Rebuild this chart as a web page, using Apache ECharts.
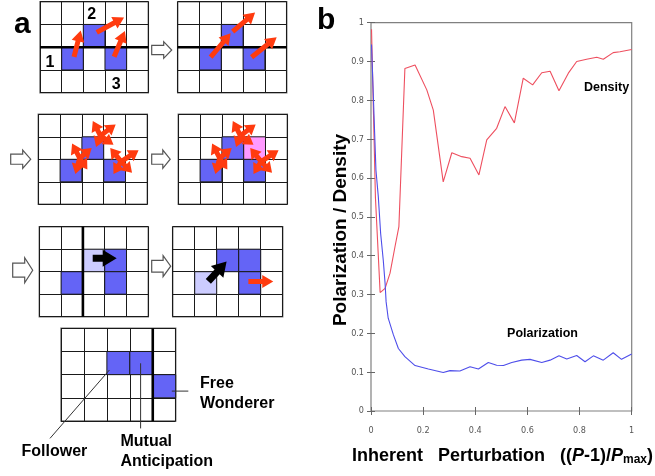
<!DOCTYPE html>
<html><head><meta charset="utf-8">
<script src="https://cdn.jsdelivr.net/npm/echarts@6/dist/echarts.min.js"></script>
<style>html,body{margin:0;padding:0;background:#fff}#c{width:655px;height:476px}</style>
</head><body><div id="c"></div><script>
// ---------- Panel b data ----------
const densX = [0.002,0.017,0.035,0.054,0.073,0.092,0.107,0.13,0.169,0.214,0.239,0.277,0.31,0.348,0.38,0.414,0.444,0.482,0.514,0.55,0.584,0.62,0.655,0.687,0.721,0.757,0.789,0.827,0.866,0.891,0.929,0.955,1];
const densY = [0.983,0.55,0.305,0.316,0.355,0.423,0.475,0.882,0.891,0.827,0.775,0.59,0.665,0.655,0.651,0.608,0.698,0.728,0.784,0.742,0.857,0.84,0.871,0.875,0.825,0.87,0.9,0.906,0.911,0.906,0.923,0.925,0.931];
const polX = [0.002,0.019,0.028,0.037,0.047,0.054,0.058,0.066,0.086,0.105,0.13,0.169,0.22,0.277,0.303,0.341,0.38,0.412,0.45,0.482,0.508,0.54,0.578,0.61,0.655,0.687,0.721,0.751,0.789,0.821,0.853,0.891,0.929,0.961,1];
const polY = [0.944,0.62,0.552,0.457,0.389,0.329,0.281,0.239,0.196,0.161,0.14,0.117,0.108,0.099,0.104,0.103,0.114,0.108,0.125,0.118,0.117,0.125,0.131,0.133,0.125,0.131,0.142,0.134,0.143,0.127,0.142,0.131,0.15,0.133,0.147];
const seriesNames = ['Density','Polarization'];

// ---------- Panel a data (cell coordinates: col, row) ----------
// [grid, col, row, kind]  kind: 0 blue, 1 light blue, 2 pink
const cells = [
  [0,1,2,0],[0,2,1,0],[0,3,2,0],
  [1,1,2,0],[1,2,1,0],[1,3,2,0],
  [2,1,2,0],[2,2,1,0],[2,3,2,0],
  [3,1,2,0],[3,2,1,0],[3,3,2,0],[3,3,1,2],
  [4,2,1,1],[4,3,1,0],[4,1,2,0],[4,3,2,0],
  [5,2,1,0],[5,3,1,0],[5,1,2,1],[5,3,2,0],
  [6,2,1,0],[6,3,1,0],[6,4,2,0]
];
// [grid, x1, y1, x2, y2, kind]  kind: 0 red, 1 small red, 2 black
const arrows = [
  [0,1.57,2.42,1.88,1.27,0],[0,2.62,1.35,3.88,0.69,0],[0,3.42,2.42,3.92,1.29,0],
  [1,1.51,2.44,2.43,1.39,0],[1,2.52,1.32,3.55,0.47,0],[1,3.39,2.44,4.54,1.56,0],
  [2,1.9,1.95,1.55,1.3,1],[2,1.9,1.95,2.45,1.5,1],[2,1.9,1.95,1.7,2.65,1],[2,1.9,1.95,2.25,2.45,1],
  [2,2.85,0.95,2.5,0.3,1],[2,2.85,0.95,3.55,0.45,1],[2,2.85,0.95,3.45,1.35,1],[2,2.85,0.95,2.65,1.45,1],
  [2,3.8,2.1,3.3,1.5,1],[2,3.8,2.1,4.6,1.6,1],[2,3.8,2.1,4.3,2.6,1],[2,3.8,2.1,3.45,2.65,1],
  [3,1.9,1.95,1.55,1.3,1],[3,1.9,1.95,2.45,1.5,1],[3,1.9,1.95,1.7,2.65,1],[3,1.9,1.95,2.25,2.45,1],
  [3,2.85,0.95,2.5,0.3,1],[3,2.85,0.95,3.55,0.45,1],[3,2.85,0.95,3.45,1.35,1],[3,2.85,0.95,2.65,1.45,1],
  [3,3.8,2.1,3.3,1.5,1],[3,3.8,2.1,4.6,1.6,1],[3,3.8,2.1,4.3,2.6,1],[3,3.8,2.1,3.45,2.65,1],
  [4,2.45,1.4,3.55,1.4,2],
  [5,1.62,2.43,2.45,1.55,2],[5,3.44,2.43,4.57,2.43,0]
];
// [grid, x1, y1, x2, y2, kind] kind 0 heavy grid line, 1 leader line
const segs = [
  [0,0,2,5,2,0],[1,0,2,5,2,0],[4,2,0,2,4,0],[6,4,0,4,4,0],
  [6,2.11,1.8,-0.48,4.75,1],[6,3.47,1.51,3.47,4.32,1],[6,4.83,2.71,5.55,2.71,1]
];

// ---------- layout / styles ----------
const miniLayout = [[40,1.7,108.3,91],[177.7,1.7,109,91],[38.3,114.3,109,90],[178.3,114.3,109,90],[39.3,226.7,109,90],[172.7,226.7,110,90],[61,328.3,114.7,92.7]];
const cellColors = ['#6464F6','#CCCCFF','#FF99FF'];
const arrowStyles = [['#FF3B0F',5,11,13],['#FF3B0F',5,10,13],['#000000',7,14,17]];
const FONT = '"Liberation Sans", Arial, sans-serif';

function arrowPts(p1,p2,sw,hl,hw){
  const dx=p2[0]-p1[0], dy=p2[1]-p1[1], L=Math.hypot(dx,dy)||1;
  const ux=dx/L, uy=dy/L, nx=-uy, ny=ux;
  const bx=p2[0]-ux*hl, by=p2[1]-uy*hl;
  return [[p1[0]+nx*sw/2,p1[1]+ny*sw/2],[bx+nx*sw/2,by+ny*sw/2],[bx+nx*hw/2,by+ny*hw/2],[p2[0],p2[1]],
          [bx-nx*hw/2,by-ny*hw/2],[bx-nx*sw/2,by-ny*sw/2],[p1[0]-nx*sw/2,p1[1]-ny*sw/2]];
}

const grids=[], xAxes=[], yAxes=[], series=[];
miniLayout.forEach((l,g)=>{
  grids.push({left:l[0],top:l[1],width:l[2],height:l[3],show:true,borderColor:'#777',borderWidth:1.5,backgroundColor:'#fff'});
  const common={gridIndex:g,type:'value',interval:1,axisLine:{show:false},axisTick:{show:false},axisLabel:{show:false},
    splitLine:{show:true,lineStyle:{color:'#1a1a1a',width:1}}};
  xAxes.push(Object.assign({min:0,max:5},common));
  yAxes.push(Object.assign({min:0,max:4,inverse:true},common));
  series.push({type:'custom',xAxisIndex:g,yAxisIndex:g,z:2,clip:false,silent:true,
    data:cells.filter(c=>c[0]===g).map(c=>[c[1],c[2],c[3]]),
    renderItem:(p,api)=>{
      const a=api.coord([api.value(0),api.value(1)]), b=api.coord([api.value(0)+1,api.value(1)+1]);
      return {type:'rect',shape:{x:Math.min(a[0],b[0]),y:Math.min(a[1],b[1]),width:Math.abs(b[0]-a[0]),height:Math.abs(b[1]-a[1])},
        style:{fill:cellColors[api.value(2)],stroke:'#1a1a1a',lineWidth:1}};
    }});
  series.push({type:'custom',xAxisIndex:g,yAxisIndex:g,z:3,clip:false,silent:true,
    data:segs.filter(s=>s[0]===g).map(s=>s.slice(1)),
    renderItem:(p,api)=>{
      const a=api.coord([api.value(0),api.value(1)]), b=api.coord([api.value(2),api.value(3)]);
      const k=api.value(4);
      return {type:'line',shape:{x1:a[0],y1:a[1],x2:b[0],y2:b[1]},
        style:{stroke:k===0?'#000':'#333',lineWidth:k===0?2.6:1}};
    }});
  series.push({type:'custom',xAxisIndex:g,yAxisIndex:g,z:4,clip:false,silent:true,
    data:arrows.filter(s=>s[0]===g).map(s=>s.slice(1)),
    renderItem:(p,api)=>{
      const a=api.coord([api.value(0),api.value(1)]), b=api.coord([api.value(2),api.value(3)]);
      const st=arrowStyles[api.value(4)];
      return {type:'polygon',shape:{points:arrowPts(a,b,st[1],st[2],st[3])},style:{fill:st[0]}};
    }});
});

// main chart
const M = miniLayout.length;
grids.push({left:371,top:22.7,width:260.7,height:388.3,show:true,borderColor:'#808080',borderWidth:1.2});
const tickStyle={show:true,inside:true,length:4,lineStyle:{color:'#666',width:1}};
const lbl={color:'#555',fontSize:9,fontFamily:'"DejaVu Sans Condensed","Liberation Sans Narrow",sans-serif'};
xAxes.push({gridIndex:M,type:'value',min:0,max:1,interval:0.2,position:'bottom',axisLine:{show:false},axisTick:tickStyle,
  axisLabel:Object.assign({margin:15},lbl),splitLine:{show:false}});
xAxes.push({gridIndex:M,type:'value',min:0,max:1,interval:0.2,position:'top',axisLine:{show:false},axisTick:tickStyle,
  axisLabel:{show:false},splitLine:{show:false}});
yAxes.push({gridIndex:M,type:'value',min:0,max:1,interval:0.1,position:'left',axisLine:{show:false},axisTick:tickStyle,
  axisLabel:Object.assign({margin:7},lbl),splitLine:{show:false}});
yAxes.push({gridIndex:M,type:'value',min:0,max:1,interval:0.1,position:'right',axisLine:{show:false},axisTick:tickStyle,
  axisLabel:{show:false},splitLine:{show:false}});
series.push({name:seriesNames[0],type:'line',xAxisIndex:M,yAxisIndex:M,showSymbol:false,symbol:'none',z:5,
  lineStyle:{color:'#EE4F5F',width:1.1},data:densX.map((x,i)=>[x,densY[i]])});
series.push({name:seriesNames[1],type:'line',xAxisIndex:M,yAxisIndex:M,showSymbol:false,symbol:'none',z:5,
  lineStyle:{color:'#4E4EEA',width:1.1},data:polX.map((x,i)=>[x,polY[i]])});

// hollow block arrows
const hollow=[[151.7,41.7,20,16.6],[10.7,150,20,18.3],[151.7,150,18.5,18.3],[12.7,257.7,20,25],[151.7,255.7,19,21]];
const graphic=[];
hollow.forEach(h=>{
  const [x,y,w,hh]=h;
  graphic.push({type:'polygon',z:10,shape:{points:[[x,y+0.22*hh],[x+0.6*w,y+0.22*hh],[x+0.6*w,y],[x+w,y+hh/2],[x+0.6*w,y+hh],[x+0.6*w,y+0.78*hh],[x,y+0.78*hh]]},
    style:{fill:'#fff',stroke:'#555',lineWidth:1.2}});
});
function txt(s,x,y,size,opt){
  return Object.assign({type:'text',z:20,x:x,y:y,style:Object.assign({text:s,fill:'#000',font:'bold '+size+'px '+FONT,textAlign:'left',textVerticalAlign:'middle'},opt||{})});
}
graphic.push(txt('a',14,25,30));
graphic.push(txt('b',317,21,30));
graphic.push(txt('1',50,62.5,16,{textAlign:'center'}));
graphic.push(txt('2',91.7,14.2,16,{textAlign:'center'}));
graphic.push(txt('3',116.2,84.2,16,{textAlign:'center'}));
graphic.push(txt('Free',200,384,16));
graphic.push(txt('Wonderer',200,404,16));
graphic.push(txt('Follower',21.5,452,16));
graphic.push(txt('Mutual',120.5,442,16));
graphic.push(txt('Anticipation',120.5,462,16));
graphic.push(txt('Density',606.5,87.5,12.5,{textAlign:'center'}));
graphic.push(txt('Polarization',542.5,333.5,12.5,{textAlign:'center'}));
graphic.push({type:'text',z:20,x:340.7,y:230,rotation:Math.PI/2,style:{text:'Polarization / Density',font:'bold 19px '+FONT,fill:'#000',textAlign:'center',textVerticalAlign:'middle'}});
graphic.push({type:'text',z:20,x:352,y:456,style:{
  text:'{b|Inherent   Perturbation   ((}{i|P}{b|-1)/}{i|P}{s|max}{b|)}',
  textVerticalAlign:'middle',
  rich:{b:{font:'bold 18px '+FONT,fill:'#000'},i:{font:'italic bold 18px '+FONT,fill:'#000'},s:{font:'bold 12px '+FONT,fill:'#000',padding:[7,0,0,0]}}
}});

const chart=echarts.init(document.getElementById('c'),null,{renderer:'canvas'});
chart.setOption({animation:false,grid:grids,xAxis:xAxes,yAxis:yAxes,series:series,graphic:graphic});
</script></body></html>
